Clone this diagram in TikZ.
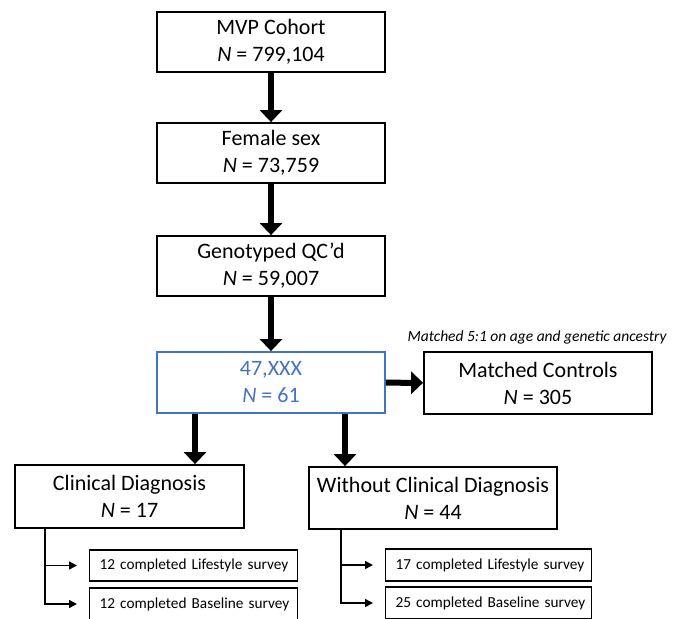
\documentclass[tikz,border=0pt]{standalone}
\usepackage{fontspec}
\setmainfont{Carlito}
\usetikzlibrary{arrows.meta,calc}
\definecolor{oblue}{HTML}{4472C4}
\tikzset{
  mainbox/.style={draw, line width=1.8pt, align=center, inner sep=0pt,
    font=\fontsize{22}{27}\selectfont},
  smallbox/.style={draw, line width=1.2pt, inner ysep=0pt, inner xsep=10pt, anchor=west,
    align=left, font=\fontsize{15.3}{18}\selectfont},
  bigarr/.style={line width=6pt, -{Triangle[width=22pt,length=12pt]}},
  thinarr/.style={line width=1.5pt, -{Triangle[width=8pt,length=8pt]}},
}
\begin{document}
\begin{tikzpicture}[x=1pt,y=-1pt]
\useasboundingbox (0,0) rectangle (676,618);
\node[mainbox, minimum width=228pt, minimum height=60pt] (mvp) at (271,42) {MVP Cohort\\\textit{N} = 799,104};
\node[mainbox, minimum width=228pt, minimum height=60pt] (fem) at (271,153) {Female sex\\\textit{N} = 73,759};
\node[mainbox, minimum width=228pt, minimum height=60pt] (gen) at (271,266) {Genotyped QC’d\\\textit{N} = 59,007};
\node[mainbox, draw=oblue, text=oblue, minimum width=228pt, minimum height=61pt] (xxx) at (271,382.5) {47,XXX\\\textit{N} = 61};
\node[mainbox, minimum width=228pt, minimum height=62pt] (ctl) at (538,383) {Matched Controls\\\textit{N} = 305};
\node[font=\fontsize{15.5}{18}\selectfont\itshape, anchor=east] (note) at (670,337) {Matched 5:1 on age and genetic ancestry};
\node[mainbox, minimum width=229pt, minimum height=63pt] (clin) at (129.5,496.5) {Clinical Diagnosis\\\textit{N} = 17};
\node[mainbox, minimum width=248pt, minimum height=62pt] (wo) at (433,498) {Without Clinical Diagnosis\\\textit{N} = 44};
\node[smallbox, minimum height=31pt, text width=188pt] (l1) at (89,565.5) {\mbox{12 completed Lifestyle survey}};
\node[smallbox, minimum height=32pt, text width=188pt] (l2) at (89,604) {\mbox{12 completed Baseline survey}};
\node[smallbox, minimum height=32pt, text width=186pt] (r1) at (385,565) {\mbox{17 completed Lifestyle survey}};
\node[smallbox, minimum height=32pt, text width=186pt] (r2) at (385,603) {\mbox{25 completed Baseline survey}};
\draw[bigarr] (mvp) -- (fem);
\draw[bigarr] (fem) -- (gen);
\draw[bigarr] (gen) -- (xxx);
\draw[bigarr] (xxx) -- (ctl);
\draw[bigarr] (xxx.south -| 195,0) -- (clin.north -| 195,0);
\draw[bigarr] (xxx.south -| 345,0) -- (wo.north -| 345,0);
\coordinate (cb) at ($(clin.south west)+(31,0)$);
\coordinate (wb) at ($(wo.south west)+(33,0)$);
\draw[thinarr, shorten >=12pt] (cb) |- (l1.west);
\draw[thinarr, shorten >=12pt] (cb) |- (l2.west);
\draw[thinarr, shorten >=12pt] (wb) |- (r1.west);
\draw[thinarr, shorten >=12pt] (wb) |- (r2.west);
\end{tikzpicture}
\end{document}
